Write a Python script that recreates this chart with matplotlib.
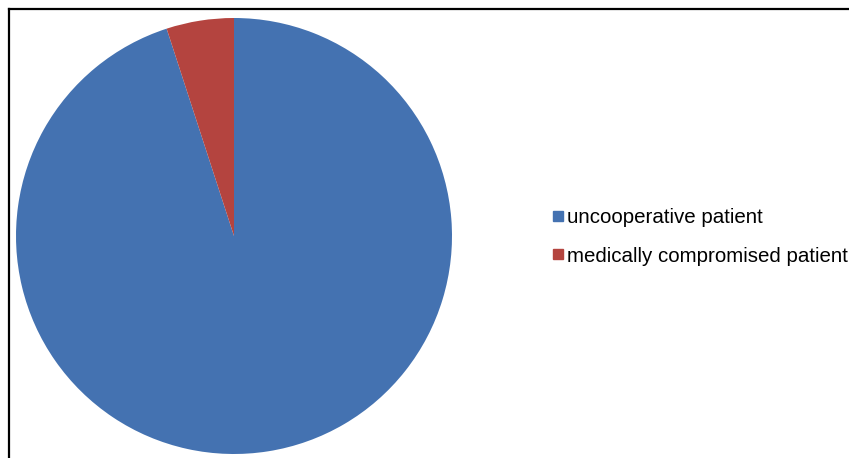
import matplotlib.pyplot as plt
from matplotlib.lines import Line2D

labels = ["uncooperative patient", "medically compromised patient"]
values = [95, 5]
colors = ["#4472B1", "#B4443F"]

W, H = 849, 458
fig = plt.figure(figsize=(W / 100, H / 100), dpi=100)
fig.patch.set_facecolor("white")

# pie: centre (234, 236), radius 218 px
cx, cy, r = 234, 236, 218
ax = fig.add_axes([(cx - r) / W, (H - cy - r) / H, 2 * r / W, 2 * r / H])
ax.pie(values, colors=colors, startangle=90, counterclock=False,
       wedgeprops=dict(linewidth=0))
ax.set_xlim(-1, 1)
ax.set_ylim(-1, 1)
ax.set_aspect("equal")
ax.axis("off")

# outer frame (cut off on right and bottom)
fig.add_artist(Line2D([8.5 / W, 1], [1 - 8.5 / H, 1 - 8.5 / H], color="black", lw=1.6))
fig.add_artist(Line2D([8.5 / W, 8.5 / W], [0, 1 - 8.5 / H], color="black", lw=1.6))

handles = [Line2D([], [], marker="s", ls="", markersize=7.5, color=c) for c in colors]
fig.legend(handles, labels, loc="center left",
           bbox_to_anchor=(542 / W, 1 - 237 / H), frameon=False,
           prop=dict(family="Liberation Sans", size=14.8),
           handlelength=0.55, handletextpad=0.15, labelspacing=0.93,
           borderpad=0)

fig.savefig("out.png", dpi=100)
